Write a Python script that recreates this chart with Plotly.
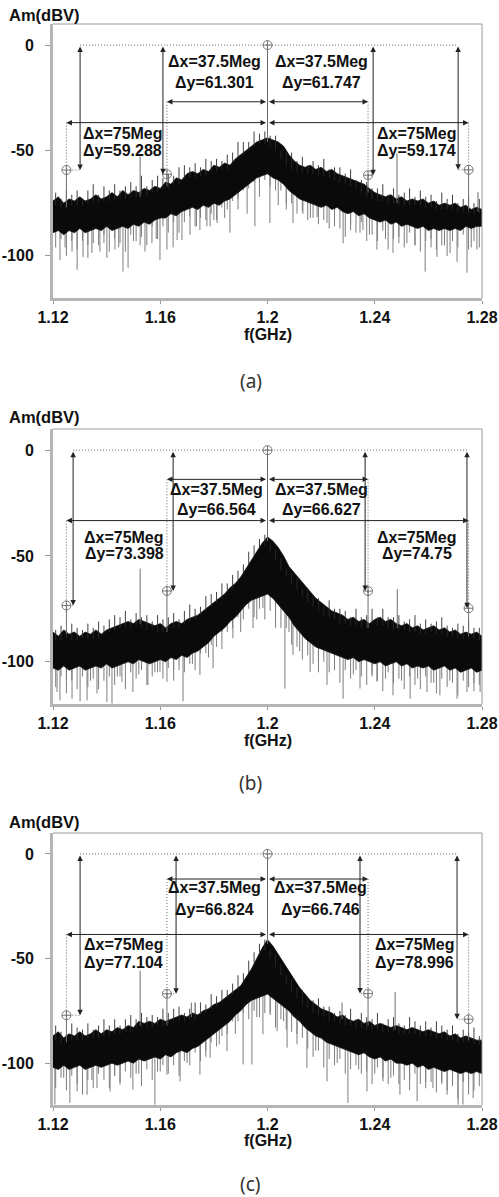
import numpy as np
import plotly.graph_objects as go

# ---------------- data ----------------
FREQ = [1.120, 1.122, 1.124, 1.126, 1.128, 1.130, 1.132, 1.134, 1.136, 1.138,
        1.140, 1.142, 1.144, 1.146, 1.148, 1.150, 1.152, 1.154, 1.156, 1.158,
        1.160, 1.162, 1.164, 1.166, 1.168, 1.170, 1.172, 1.174, 1.176, 1.178,
        1.180, 1.182, 1.184, 1.186, 1.188, 1.190, 1.192, 1.194, 1.196, 1.198,
        1.200, 1.202, 1.204, 1.206, 1.208, 1.210, 1.212, 1.214, 1.216, 1.218,
        1.220, 1.222, 1.224, 1.226, 1.228, 1.230, 1.232, 1.234, 1.236, 1.238,
        1.240, 1.242, 1.244, 1.246, 1.248, 1.250, 1.252, 1.254, 1.256, 1.258,
        1.260, 1.262, 1.264, 1.266, 1.268, 1.270, 1.272, 1.274, 1.276, 1.278,
        1.280]

# noise band upper / lower edge (dBV)
TOP_A = [-74, -72, -75, -73, -74, -72, -74, -73, -71, -73,
         -72, -70, -72, -69, -71, -69, -70, -68, -69, -67,
         -68, -65, -66, -63, -64, -61, -60, -61, -59, -60,
         -57, -58, -56, -57, -54, -52, -50, -48, -46, -45,
         -44, -45, -46, -48, -52, -55, -57, -58, -57, -59,
         -58, -60, -59, -61, -62, -63, -64, -65, -66, -68,
         -70, -71, -72, -71, -73, -72, -74, -73, -74, -73,
         -75, -74, -76, -75, -76, -75, -77, -76, -78, -77,
         -78]
BOT_A = [-89, -88, -90, -88, -89, -87, -89, -88, -87, -88,
         -86, -88, -87, -86, -87, -85, -86, -84, -85, -83,
         -82, -82, -80, -81, -79, -78, -77, -78, -76, -77,
         -75, -76, -74, -73, -71, -69, -67, -65, -63, -62,
         -61, -63, -64, -66, -69, -71, -73, -74, -75, -76,
         -77, -76, -78, -77, -79, -80, -79, -81, -80, -82,
         -83, -84, -83, -85, -84, -86, -85, -86, -87, -86,
         -88, -87, -88, -87, -88, -87, -88, -86, -87, -86,
         -86]
TOP_B = [-86, -88, -85, -87, -86, -88, -86, -87, -85, -87,
         -85, -84, -83, -82, -81, -82, -80, -81, -82, -83,
         -82, -84, -82, -81, -82, -80, -79, -78, -76, -74,
         -72, -70, -68, -65, -63, -60, -56, -52, -48, -44,
         -41, -43, -46, -50, -55, -58, -61, -64, -67, -70,
         -72, -74, -76, -77, -78, -80, -79, -81, -80, -82,
         -80, -79, -81, -80, -82, -83, -82, -84, -83, -85,
         -84, -83, -85, -84, -86, -85, -87, -86, -87, -86,
         -88]
BOT_B = [-103, -104, -102, -104, -103, -102, -104, -103, -102, -103,
         -101, -103, -102, -101, -100, -101, -99, -100, -101, -100,
         -99, -100, -98, -99, -97, -98, -96, -95, -93, -91,
         -88, -86, -84, -81, -79, -76, -73, -71, -70, -69,
         -68, -70, -73, -76, -79, -83, -86, -89, -91, -93,
         -94, -95, -96, -97, -98, -99, -98, -100, -99, -100,
         -101, -100, -102, -101, -100, -102, -101, -103, -102, -103,
         -102, -104, -103, -102, -104, -103, -105, -104, -103, -105,
         -104]
TOP_C = [-87, -85, -88, -86, -87, -85, -87, -86, -84, -86,
         -84, -85, -83, -84, -82, -83, -80, -81, -80, -81,
         -79, -80, -79, -78, -77, -78, -76, -77, -75, -74,
         -72, -71, -69, -67, -65, -63, -59, -55, -50, -45,
         -41, -44, -48, -52, -56, -60, -64, -67, -70, -72,
         -74, -75, -76, -78, -77, -79, -80, -79, -81, -80,
         -82, -81, -82, -83, -82, -83, -84, -83, -84, -85,
         -84, -85, -86, -85, -87, -86, -88, -87, -88, -89,
         -89]
BOT_C = [-102, -103, -101, -103, -102, -101, -103, -102, -101, -102,
         -101, -100, -101, -100, -99, -100, -98, -99, -98, -97,
         -98, -96, -97, -95, -94, -95, -93, -92, -90, -88,
         -86, -84, -82, -80, -77, -75, -72, -70, -69, -68,
         -67, -69, -71, -73, -75, -78, -80, -83, -85, -87,
         -88, -90, -91, -92, -93, -94, -95, -96, -95, -97,
         -98, -97, -99, -98, -100, -100, -101, -100, -102, -101,
         -103, -102, -103, -104, -103, -104, -105, -104, -105, -104,
         -105]

# fine noise hairs between grid points: height above band top / depth below band bottom (dB)
HAIR_F = [1.121, 1.123, 1.125, 1.127, 1.129, 1.131, 1.133, 1.135, 1.137, 1.139,
          1.141, 1.143, 1.145, 1.147, 1.149, 1.151, 1.153, 1.155, 1.157, 1.159,
          1.161, 1.163, 1.165, 1.167, 1.169, 1.171, 1.173, 1.175, 1.177, 1.179,
          1.181, 1.183, 1.185, 1.187, 1.189, 1.191, 1.193, 1.195, 1.197, 1.199,
          1.201, 1.203, 1.205, 1.207, 1.209, 1.211, 1.213, 1.215, 1.217, 1.219,
          1.221, 1.223, 1.225, 1.227, 1.229, 1.231, 1.233, 1.235, 1.237, 1.239,
          1.241, 1.243, 1.245, 1.247, 1.249, 1.251, 1.253, 1.255, 1.257, 1.259,
          1.261, 1.263, 1.265, 1.267, 1.269, 1.271, 1.273, 1.275, 1.277, 1.279]
HAIR_UP_A = [4, 2, 6, 3, 5, 1, 4, 7, 2, 5, 3, 6, 2, 4, 5, 3, 7, 2, 4, 6,
             3, 5, 2, 6, 4, 3, 5, 2, 6, 3, 4, 2, 5, 3, 6, 4, 2, 5, 3, 4,
             3, 5, 2, 4, 6, 3, 5, 2, 4, 3, 6, 2, 4, 5, 3, 6, 2, 4, 5, 3,
             4, 6, 2, 5, 3, 4, 6, 2, 5, 3, 4, 2, 6, 3, 5, 2, 4, 6, 3, 5]
HAIR_DN_A = [8, 4, 12, 6, 10, 5, 14, 7, 9, 4, 11, 6, 8, 13, 5, 9, 7, 12, 4, 10,
             6, 9, 5, 11, 7, 4, 10, 6, 8, 5, 9, 4, 7, 5, 6, 4, 5, 3, 4, 3,
             4, 5, 3, 6, 4, 7, 5, 8, 6, 9, 7, 10, 5, 8, 12, 6, 9, 4, 11, 7,
             10, 5, 13, 8, 6, 11, 4, 9, 12, 7, 5, 10, 8, 13, 6, 9, 4, 11, 7, 10]
HAIR_UP_B = [3, 5, 2, 6, 4, 2, 5, 3, 6, 2, 4, 5, 3, 6, 2, 4, 3, 5, 2, 6,
             4, 3, 5, 2, 4, 6, 3, 2, 5, 4, 3, 5, 2, 4, 3, 2, 4, 3, 2, 3,
             2, 3, 4, 2, 3, 4, 2, 5, 3, 4, 2, 6, 3, 5, 4, 2, 6, 3, 4, 5,
             2, 6, 3, 4, 5, 2, 4, 6, 3, 5, 2, 4, 6, 3, 2, 5, 4, 6, 3, 4]
HAIR_DN_B = [9, 5, 13, 7, 11, 4, 10, 6, 12, 8, 5, 10, 7, 13, 6, 9, 4, 11, 8, 6,
             10, 5, 12, 7, 9, 6, 11, 5, 8, 6, 9, 5, 7, 8, 6, 9, 5, 10, 7, 12,
             6, 11, 8, 5, 9, 7, 10, 6, 8, 11, 5, 9, 7, 12, 6, 10, 5, 8, 11, 6,
             9, 13, 5, 10, 7, 12, 6, 9, 11, 5, 8, 12, 6, 10, 7, 13, 5, 9, 11, 7]
HAIR_UP_C = [5, 3, 2, 6, 4, 3, 5, 2, 4, 6, 3, 5, 2, 4, 6, 2, 5, 3, 4, 2,
             6, 3, 4, 5, 2, 3, 6, 4, 2, 5, 3, 4, 2, 3, 5, 2, 4, 3, 2, 3,
             2, 4, 3, 2, 4, 3, 5, 2, 4, 6, 3, 5, 2, 4, 3, 6, 2, 5, 4, 3,
             6, 2, 4, 5, 3, 2, 6, 4, 3, 5, 2, 6, 4, 3, 5, 2, 4, 3, 6, 2]
HAIR_DN_C = [10, 6, 12, 5, 9, 13, 7, 11, 4, 8, 12, 6, 10, 5, 9, 7, 13, 6, 11, 8,
             5, 10, 7, 12, 6, 9, 5, 11, 8, 6, 10, 7, 9, 5, 8, 6, 10, 7, 11, 9,
             8, 12, 6, 9, 7, 11, 5, 8, 10, 6, 12, 7, 9, 5, 11, 8, 6, 10, 7, 13,
             5, 9, 12, 6, 10, 8, 13, 5, 9, 11, 7, 12, 6, 10, 8, 13, 5, 11, 9, 7]

# deeper downward noise spikes (frequency, lowest value)
SPIKE_F_A = [1.1226, 1.1271, 1.1290, 1.1312, 1.1345, 1.1375, 1.1401, 1.1431, 1.1461, 1.1480,
             1.1525, 1.1543, 1.1569, 1.1599, 1.1625, 1.1648, 1.1663, 1.1681, 1.1711, 1.1748,
             1.1774, 1.1786, 1.1812, 1.1860, 1.1924, 1.1953, 1.2009, 1.2095, 1.2132, 1.2185,
             1.2222, 1.2282, 1.2345, 1.2356, 1.2408, 1.2468, 1.2520, 1.2588, 1.2632, 1.2681,
             1.2707, 1.2744, 1.2781,
             1.1245, 1.1330, 1.1390, 1.1445, 1.1500, 1.1585, 1.1735, 1.1800, 1.1840, 1.1890,
             1.1970, 1.2040, 1.2070, 1.2160, 1.2250, 1.2310, 1.2380, 1.2440, 1.2490, 1.2550,
             1.2610, 1.2660, 1.2760]
SPIKE_V_A = [-102, -98, -106.6, -100.5, -98.6, -98, -101, -97, -107.5, -105.7,
             -95, -98, -94, -102, -97, -96, -92.5, -92.5, -90, -87.7,
             -86, -86, -84.4, -89, -80, -86, -84.4, -84.4, -80, -81.6,
             -84.4, -94, -89, -87.7, -97, -98.6, -94, -107.5, -100.5, -98.6,
             -102.8, -108, -97,
             -96, -95, -94, -96, -93, -92, -86, -83, -82, -78,
             -72, -76, -78, -82, -86, -88, -90, -92, -94, -95,
             -96, -95, -96]
SPIKE_F_B = [1.1215, 1.1226, 1.1271, 1.1301, 1.1327, 1.1364, 1.1401, 1.1420, 1.1457, 1.1498,
             1.1554, 1.1599, 1.1625, 1.1685, 1.1748, 1.1797, 1.1871, 1.1946, 1.1983, 1.2065,
             1.2095, 1.2159, 1.2222, 1.2282, 1.2345, 1.2408, 1.2468, 1.2532, 1.2595, 1.2643,
             1.2707, 1.2744, 1.2793,
             1.1250, 1.1340, 1.1440, 1.1520, 1.1580, 1.1650, 1.1720, 1.1780, 1.1830, 1.1900,
             1.1960, 1.2030, 1.2080, 1.2120, 1.2190, 1.2250, 1.2320, 1.2390, 1.2440, 1.2500,
             1.2560, 1.2620, 1.2680, 1.2770]
SPIKE_V_B = [-114.3, -118.3, -117.5, -118.7, -118.3, -115, -119, -119.8, -109.5, -114.3,
             -111, -104.8, -109.5, -118.7, -106.3, -103.2, -88.9, -84.1, -74.6, -112.7,
             -96.8, -104.8, -111, -117.5, -112.7, -109.5, -115.9, -117.5, -114.3, -115.9,
             -117.5, -114.3, -114.3,
             -108, -109, -107, -106, -105, -104, -101, -98, -94, -86,
             -80, -78, -86, -95, -100, -104, -106, -107, -108, -109,
             -108, -110, -109, -110]
SPIKE_F_C = [1.1207, 1.1263, 1.1290, 1.1327, 1.1364, 1.1413, 1.1450, 1.1498, 1.1580, 1.1625,
             1.1674, 1.1748, 1.1786, 1.1849, 1.1909, 1.1942, 1.1983, 1.2036, 1.2073, 1.2147,
             1.2222, 1.2300, 1.2371, 1.2431, 1.2494, 1.2558, 1.2617, 1.2670, 1.2711, 1.2729,
             1.2767,
             1.1240, 1.1345, 1.1430, 1.1520, 1.1600, 1.1700, 1.1770, 1.1820, 1.1880, 1.1960,
             1.2010, 1.2060, 1.2110, 1.2180, 1.2260, 1.2340, 1.2400, 1.2460, 1.2530, 1.2590,
             1.2650, 1.2750]
SPIKE_V_C = [-119.8, -119, -113.5, -115.1, -111.9, -113.5, -110.3, -112.7, -119.8, -105.5,
             -108.7, -105.5, -97.4, -94.2, -100.6, -100.6, -86.2, -84.6, -92.6, -102.2,
             -108.7, -119, -113.5, -108.7, -115.1, -118.2, -111.9, -115.1, -119.8, -119.8,
             -116.7,
             -107, -108, -106, -105, -104, -100, -97, -91, -86, -78,
             -76, -80, -86, -94, -100, -103, -105, -107, -108, -109,
             -110, -111]

# upward spurs (frequency, highest value)
SPUR_F_A = [1.1525, 1.2483, 1.2785]
SPUR_V_A = [-52.8, -51.4, -69.8]
SPUR_F_B = [1.1525, 1.2484]
SPUR_V_B = [-56, -65.7]
SPUR_F_C = [1.1525, 1.2476, 1.1716, 1.2278]
SPUR_V_C = [-55.8, -66, -71, -71]

# cursor markers: carrier at 1.2 GHz and offsets of +-37.5 / +-75 MHz
MARK_F = [1.125, 1.1625, 1.2, 1.2375, 1.275]
MARK_V_A = [-59.288, -61.301, 0.0, -61.747, -59.174]
MARK_V_B = [-73.398, -66.564, 0.0, -66.627, -74.75]
MARK_V_C = [-77.104, -66.824, 0.0, -66.746, -78.996]

X_TICKS = [1.12, 1.16, 1.2, 1.24, 1.28]
X_TICK_TEXT = ["1.12", "1.16", "1.2", "1.24", "1.28"]
Y_TICKS = [0, -50, -100]
Y_TICK_TEXT = ["0", "-50", "-100"]
CAPTIONS = ["(a)", "(b)", "(c)"]
X_TITLE = "f(GHz)"
Y_TITLE = "Am(dBV)"

# ---------------- layout / style (positions only) ----------------
W, H = 499, 1197
XL, XR = 53, 482
PANELS = [
    dict(top=24, bot=298, ytitle=15, xtitle=335, cap=381,
         dyx=[1.1301, 1.1610, 1.2394, 1.2711], l75=-36.8, l37=-26.9,
         tx=[1.1460, 1.1804, 1.2200, 1.2556], t37=(-8.0, -17.9), t75=(-42.0, -50.0)),
    dict(top=429, bot=704, ytitle=417, xtitle=740, cap=783,
         dyx=[1.1275, 1.1648, 1.2364, 1.2744], l75=-33.3, l37=-13.8,
         tx=[1.1465, 1.1808, 1.2203, 1.2558], t37=(-18.6, -28.1), t75=(-41.4, -49.0)),
    dict(top=833, bot=1105, ytitle=822, xtitle=1140, cap=1184,
         dyx=[1.1301, 1.1659, 1.2345, 1.2707], l75=-38.5, l37=-12.0,
         tx=[1.1463, 1.1804, 1.2198, 1.2550], t37=(-15.9, -26.5), t75=(-43.3, -51.9)),
]
DATA = [
    (TOP_A, BOT_A, HAIR_UP_A, HAIR_DN_A, SPIKE_F_A, SPIKE_V_A, SPUR_F_A, SPUR_V_A, MARK_V_A),
    (TOP_B, BOT_B, HAIR_UP_B, HAIR_DN_B, SPIKE_F_B, SPIKE_V_B, SPUR_F_B, SPUR_V_B, MARK_V_B),
    (TOP_C, BOT_C, HAIR_UP_C, HAIR_DN_C, SPIKE_F_C, SPIKE_V_C, SPUR_F_C, SPUR_V_C, MARK_V_C),
]

BOLD = dict(family="Liberation Sans, Arial, sans-serif", size=16, color="#111", weight="bold")
FA = np.array(FREQ)


def nearest(f):
    return int(np.argmin(np.abs(FA - f)))


def py(px):
    return 1 - px / H


fig = go.Figure()
annotations = []
shapes = []

for p, (cfg, (top, bot, hup, hdn, sf, sv, uf, uv, mv)) in enumerate(zip(PANELS, DATA)):
    n = "" if p == 0 else str(p + 1)
    xr, yr = "x" + n, "y" + n
    # downward gray spikes (deep ones + fine hairs)
    xs, ys = [], []
    for f, v in zip(sf, sv):
        i = nearest(f)
        xs += [f, f, None]
        ys += [bot[i] + 2, v, None]
    for f, d in zip(HAIR_F, hdn):
        i = nearest(f)
        b = max(bot[i], bot[min(i + 1, len(bot) - 1)])
        xs += [f, f, None]
        ys += [b + 2, b - d, None]
    fig.add_trace(go.Scatter(x=xs, y=ys, mode="lines", line=dict(color="#7d7d7d", width=1),
                             xaxis=xr, yaxis=yr, hoverinfo="skip"))
    # noise band
    fig.add_trace(go.Scatter(x=FREQ, y=bot, mode="lines", line=dict(color="#111", width=0.8),
                             xaxis=xr, yaxis=yr, hoverinfo="skip"))
    fig.add_trace(go.Scatter(x=FREQ, y=top, mode="lines", line=dict(color="#111", width=0.8),
                             fill="tonexty", fillcolor="#0a0a0a",
                             xaxis=xr, yaxis=yr, hoverinfo="skip"))
    # upward hairs on the band top
    xs, ys = [], []
    for f, h in zip(HAIR_F, hup):
        i = nearest(f)
        t = min(top[i], top[min(i + 1, len(top) - 1)])
        xs += [f, f, None]
        ys += [t - 2, t + h, None]
    fig.add_trace(go.Scatter(x=xs, y=ys, mode="lines", line=dict(color="#2a2a2a", width=0.9),
                             xaxis=xr, yaxis=yr, hoverinfo="skip"))
    # upward spurs and marker stems
    xs, ys = [], []
    for f, v in zip(uf, uv):
        i = nearest(f)
        xs += [f, f, None]
        ys += [top[i] - 2, v, None]
    for f, v in zip(MARK_F, mv):
        i = nearest(f)
        xs += [f, f, None]
        ys += [top[i] - 2, v, None]
    fig.add_trace(go.Scatter(x=xs, y=ys, mode="lines", line=dict(color="#6e6e6e", width=1),
                             xaxis=xr, yaxis=yr, hoverinfo="skip"))
    # markers
    fig.add_trace(go.Scatter(x=MARK_F, y=mv, mode="markers",
                             marker=dict(symbol="circle-cross-open", size=9,
                                         color="#777", line=dict(width=1, color="#777")),
                             xaxis=xr, yaxis=yr, hoverinfo="skip"))

    dotted = dict(color="#666", width=1, dash="1px,2px")
    fc = MARK_F[2]
    v0 = mv[2]
    shapes.append(dict(type="line", xref=xr, yref=yr, x0=cfg["dyx"][0], x1=cfg["dyx"][3],
                       y0=v0, y1=v0, line=dotted))
    shapes.append(dict(type="line", xref=xr, yref=yr, x0=fc, x1=fc,
                       y0=v0, y1=cfg["l75"], line=dotted))
    others = [0, 1, 3, 4]
    for k, j in enumerate(others):
        lvl = cfg["l75"] if j in (0, 4) else cfg["l37"]
        shapes.append(dict(type="line", xref=xr, yref=yr, x0=MARK_F[j], x1=MARK_F[j],
                           y0=lvl, y1=mv[j], line=dotted))
        shapes.append(dict(type="line", xref=xr, yref=yr, x0=MARK_F[j], x1=cfg["dyx"][k],
                           y0=mv[j], y1=mv[j], line=dotted))
        arrow = dict(xref=xr, yref=yr, axref=xr, ayref=yr, text="", showarrow=True,
                     arrowhead=2, startarrowhead=2, arrowside="end+start",
                     arrowsize=1.1, startarrowsize=1.1, arrowwidth=1, arrowcolor="#222",
                     standoff=0, startstandoff=0)
        annotations.append(dict(arrow, x=cfg["dyx"][k], y=mv[j], ax=cfg["dyx"][k], ay=v0))
        annotations.append(dict(arrow, x=MARK_F[j], y=lvl, ax=fc, ay=lvl))
        dx = abs(MARK_F[j] - fc) * 1000
        dy = round(v0 - mv[j], 3)
        ty = cfg["t75"] if j in (0, 4) else cfg["t37"]
        annotations.append(dict(xref=xr, yref=yr, x=cfg["tx"][k], y=ty[0], text=f"Δx={dx:g}Meg",
                                showarrow=False, font=BOLD, xanchor="center", yanchor="middle"))
        annotations.append(dict(xref=xr, yref=yr, x=cfg["tx"][k], y=ty[1], text=f"Δy={dy:g}",
                                showarrow=False, font=BOLD, xanchor="center", yanchor="middle"))

    shapes.append(dict(type="line", xref=xr + " domain", yref=yr + " domain",
                       x0=0, x1=1, y0=1, y1=1, line=dict(color="#9a9a9a", width=1)))
    shapes.append(dict(type="line", xref=xr + " domain", yref=yr + " domain",
                       x0=1, x1=1, y0=0, y1=1, line=dict(color="#9a9a9a", width=1)))

    annotations.append(dict(xref="paper", yref="paper", x=7 / W, y=py(cfg["ytitle"]),
                            text=Y_TITLE, showarrow=False, xanchor="left", yanchor="middle",
                            font=dict(BOLD, size=16.5)))
    annotations.append(dict(xref="paper", yref="paper", x=(XL + XR) / 2 / W, y=py(cfg["xtitle"]),
                            text=X_TITLE, showarrow=False, xanchor="center", yanchor="middle",
                            font=BOLD))
    annotations.append(dict(xref="paper", yref="paper", x=251 / W, y=py(cfg["cap"]),
                            text=CAPTIONS[p], showarrow=False, xanchor="center", yanchor="middle",
                            font=dict(family="Noto Sans, sans-serif", size=19, color="#333")))

    axis_common = dict(showgrid=False, zeroline=False, showline=True, linewidth=3,
                       linecolor="#b5b5b5", ticks="outside", tickwidth=1,
                       tickcolor="#999", tickfont=BOLD, automargin=False)
    fig.layout["xaxis" + n] = dict(axis_common, domain=[XL / W, XR / W], range=[1.12, 1.28],
                                   tickvals=X_TICKS, ticktext=X_TICK_TEXT, anchor=yr,
                                   ticklen=3, ticklabelstandoff=0)
    fig.layout["yaxis" + n] = dict(axis_common, domain=[py(cfg["bot"]), py(cfg["top"])],
                                   range=[-120, 10], tickvals=Y_TICKS, ticktext=Y_TICK_TEXT,
                                   anchor=xr, ticklen=5, ticklabelstandoff=8)

fig.update_layout(width=W, height=H, margin=dict(l=0, r=0, t=0, b=0),
                  paper_bgcolor="white", plot_bgcolor="white", showlegend=False,
                  annotations=annotations, shapes=shapes, hovermode=False)
fig.write_html("out.html", config={"displayModeBar": False, "staticPlot": True},
               post_script="document.body.style.margin='0px';document.body.style.padding='0px';")
